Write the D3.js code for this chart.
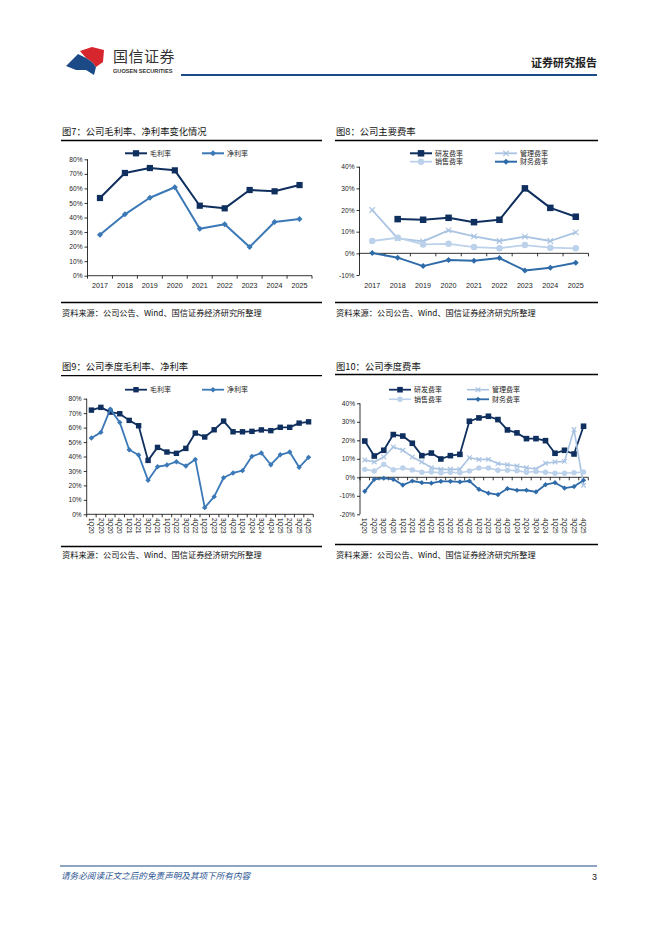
<!DOCTYPE html>
<html><head><meta charset="utf-8">
<script src="https://cdn.jsdelivr.net/npm/d3@7/dist/d3.min.js"></script>
<style>
body{margin:0;background:#fff;}
svg{display:block;}
</style></head>
<body>
<svg id="page" width="662" height="936"></svg>
<script>
// ---------- DATA ----------
const years = ["2017","2018","2019","2020","2021","2022","2023","2024","2025"];
const grossAnnual = [53.4,70.6,74.0,72.4,48.1,46.3,58.9,58.0,62.3];
const netAnnual   = [28.2,42.2,53.6,60.8,32.3,35.3,19.7,36.9,39.0];
const rdAnnual    = [null,15.8,15.5,16.4,14.4,15.5,30.0,21.0,16.9];
const adminAnnual = [20.0,6.9,5.5,10.6,7.8,5.7,7.7,5.7,9.7];
const salesAnnual = [5.7,7.2,4.1,4.4,2.9,2.4,3.8,2.6,2.3];
const finAnnual   = [0.2,-2.0,-5.9,-3.1,-3.4,-2.2,-7.9,-6.6,-4.3];

const quarters = ["1Q20","2Q20","3Q20","4Q20","1Q21","2Q21","3Q21","4Q21","1Q22","2Q22","3Q22","4Q22",
                  "1Q23","2Q23","3Q23","4Q23","1Q24","2Q24","3Q24","4Q24","1Q25","2Q25","3Q25","4Q25"];
const grossQ = [72.1,74.0,70.7,69.6,65.0,61.3,37.3,46.3,43.1,42.2,45.6,56.2,53.5,58.5,64.5,57.1,57.1,57.4,58.4,57.9,60.2,60.2,63.1,64.0];
const netQ   = [52.8,56.7,72.8,63.6,44.7,41.0,23.5,32.9,34.1,36.4,33.4,38.0,4.6,12.2,25.3,28.6,30.2,40.1,42.4,34.3,41.2,43.1,32.5,39.4];
const rdQ    = [19.6,11.5,14.6,23.1,22.3,18.4,11.7,13.1,9.9,11.7,12.4,30.3,32.1,33.0,31.2,25.6,24.0,20.9,20.9,19.8,13.0,14.6,12.6,27.6];
const adminQ = [9.4,8.3,11.0,16.4,14.6,11.0,8.3,5.2,4.3,4.3,4.3,10.6,9.6,9.7,7.4,6.8,6.1,5.2,4.5,7.6,8.3,8.6,25.8,-4.3];
const salesQ = [4.3,3.4,7.0,4.1,5.0,4.0,2.7,2.9,2.4,2.7,2.4,3.4,5.0,5.0,3.8,3.8,3.6,2.7,3.1,2.7,2.2,2.2,2.5,2.9];
const finQ   = [-7.6,-1.1,-0.5,-1.1,-4.2,-2.0,-2.9,-3.2,-2.2,-2.2,-2.5,-2.0,-6.5,-8.6,-9.4,-6.1,-7.0,-7.0,-7.9,-4.0,-2.9,-5.8,-5.0,-1.6];

const ticks7 = [0,10,20,30,40,50,60,70,80];
const ticks8 = [-10,0,10,20,30,40];
const ticks10 = [-20,-10,0,10,20,30,40];

// ---------- STYLE ----------
const NAVY = "#0f2f5e", MID = "#3a78b6", LIGHT1 = "#a9c3e2", LIGHT2 = "#bcd1ea", FIN = "#2f6ba9";
const CJK = "'Noto Sans CJK SC','Noto Sans',sans-serif";
const LAT = "'Liberation Sans',Arial,sans-serif";

const svg = d3.select("#page");

// ---------- HEADER ----------
const hdr = svg.append("g");
hdr.append("path").attr("d","M80,51 L92,47 L104,50 L103,62 L96,67 L92,62 L86,58 Z").attr("fill","#d7262e");
hdr.append("path").attr("d","M66,66 L78,54 L86,58 L92,62 L96,67 L94,75 L86,70 L76,70 Z").attr("fill","#1c4a86");
hdr.append("text").attr("x",113).attr("y",62).attr("font-family",CJK).attr("font-size",15).attr("fill","#333")
   .attr("letter-spacing",0.5).text("国信证券");
hdr.append("text").attr("x",113).attr("y",73).attr("font-family",LAT).attr("font-size",5.6).attr("font-weight","bold")
   .attr("fill","#333").text("GUOSEN SECURITIES");
hdr.append("line").attr("x1",181).attr("x2",597).attr("y1",75).attr("y2",75).attr("stroke","#1c4a86").attr("stroke-width",2);
hdr.append("text").attr("x",597).attr("y",67).attr("text-anchor","end").attr("font-family",CJK).attr("font-size",11)
   .attr("font-weight","bold").attr("fill","#222").text("证券研究报告");

// ---------- FOOTER ----------
svg.append("line").attr("x1",60).attr("x2",597).attr("y1",866).attr("y2",866).attr("stroke","#1c4a86").attr("stroke-width",1.2);
svg.append("text").attr("x",61).attr("y",879).attr("font-family",CJK).attr("font-size",8.6).attr("font-style","italic")
   .attr("fill","#2a5592").attr("transform","skewX(0)").text("请务必阅读正文之后的免责声明及其项下所有内容");
svg.append("text").attr("x",597).attr("y",880).attr("text-anchor","end").attr("font-family",LAT).attr("font-size",9)
   .attr("fill","#222").text("3");

// ---------- helpers ----------
function marker(g, type, x, y, color, size) {
  if (type === "square") {
    g.append("rect").attr("x",x-size/2).attr("y",y-size/2).attr("width",size).attr("height",size).attr("fill",color);
  } else if (type === "diamond") {
    g.append("path").attr("d",`M${x},${y-size/2}L${x+size/2},${y}L${x},${y+size/2}L${x-size/2},${y}Z`).attr("fill",color);
  } else if (type === "circle") {
    g.append("circle").attr("cx",x).attr("cy",y).attr("r",size/2).attr("fill",color);
  } else if (type === "x") {
    const s = size/2;
    g.append("path").attr("d",`M${x-s},${y-s}L${x+s},${y+s}M${x-s},${y+s}L${x+s},${y-s}`)
      .attr("stroke",color).attr("stroke-width",1.2).attr("fill","none");
  }
}

function frame(cfg) {
  const g = svg.append("g");
  g.append("text").attr("x",cfg.fx0+1).attr("y",cfg.titleY).attr("font-family",CJK).attr("font-size",9.3)
    .attr("fill","#111").text(cfg.title);
  g.append("line").attr("x1",cfg.fx0).attr("x2",cfg.fx1).attr("y1",cfg.titleLine).attr("y2",cfg.titleLine)
    .attr("stroke","#000").attr("stroke-width",1.3);
  g.append("line").attr("x1",cfg.fx0).attr("x2",cfg.fx1).attr("y1",cfg.botLine).attr("y2",cfg.botLine)
    .attr("stroke","#000").attr("stroke-width",1.3);
  g.append("text").attr("x",cfg.fx0+1).attr("y",cfg.srcY).attr("font-family",CJK).attr("font-size",8.2)
    .attr("fill","#111").text("资料来源：公司公告、Wind、国信证券经济研究所整理");
  return g;
}

function chart(cfg) {
  const g = frame(cfg);
  const x = d3.scaleBand().domain(cfg.cats).range([cfg.x0,cfg.x1]);
  const y = d3.scaleLinear().domain(cfg.domain).range([cfg.yBot,cfg.yTop]);

  // y axis
  const ya = g.append("g").attr("transform",`translate(${cfg.x0},0)`)
    .call(d3.axisLeft(y).tickValues(cfg.ticks).tickSize(3).tickPadding(2).tickFormat(d=>d+"%"));
  ya.select(".domain").attr("stroke","#000").attr("stroke-width",0.8).attr("d",`M-0,${cfg.yBot}V${cfg.yTop}`);
  ya.selectAll(".tick line").attr("stroke","#000").attr("stroke-width",0.8);
  ya.selectAll("text").attr("font-family",LAT).attr("font-size",6.6).attr("fill","#222");

  // x axis line at zero / bottom
  const axY = y(cfg.axisAt);
  const xa = g.append("g").attr("transform",`translate(0,${axY})`);
  xa.append("line").attr("x1",cfg.x0).attr("x2",cfg.x1).attr("y1",0).attr("y2",0).attr("stroke","#000").attr("stroke-width",0.8);
  const bounds = cfg.cats.map(c=>x(c)).concat([cfg.x1]);
  xa.selectAll("line.tk").data(bounds).join("line").attr("class","tk")
    .attr("x1",d=>d).attr("x2",d=>d).attr("y1",0).attr("y2",3).attr("stroke","#000").attr("stroke-width",0.8);

  // x labels
  const lab = g.append("g");
  if (cfg.rotate) {
    lab.selectAll("text").data(cfg.cats).join("text")
      .attr("transform",d=>`translate(${x(d)+x.bandwidth()/2-2.3},${cfg.labelY}) rotate(90)`)
      .attr("font-family",LAT).attr("font-size",6.4).attr("fill","#222").text(d=>d);
  } else {
    lab.selectAll("text").data(cfg.cats).join("text")
      .attr("x",d=>x(d)+x.bandwidth()/2).attr("y",cfg.labelY).attr("text-anchor","middle")
      .attr("font-family",LAT).attr("font-size",7.2).attr("fill","#222").text(d=>d);
  }

  // series
  cfg.series.forEach(s=>{
    const pts = cfg.cats.map((c,i)=>({c,v:s.values[i]})).filter(p=>p.v!=null);
    const line = d3.line().x(p=>x(p.c)+x.bandwidth()/2).y(p=>y(p.v));
    g.append("path").attr("d",line(pts)).attr("fill","none").attr("stroke",s.color).attr("stroke-width",s.width||1.8)
      .attr("stroke-linejoin","round");
    const mg = g.append("g");
    pts.forEach(p=>marker(mg,s.marker,x(p.c)+x.bandwidth()/2,y(p.v),s.mcolor||s.color,s.size));
  });

  // legend
  cfg.legend.forEach(l=>{
    const s = cfg.series[l.i];
    g.append("line").attr("x1",l.x).attr("x2",l.x+22).attr("y1",l.y).attr("y2",l.y).attr("stroke",s.color).attr("stroke-width",s.width||1.8);
    marker(g,s.marker,l.x+11,l.y,s.mcolor||s.color,s.size);
    g.append("text").attr("x",l.x+25).attr("y",l.y+2.5).attr("font-family",CJK).attr("font-size",7).attr("fill","#222").text(s.name);
  });
}

// ---------- Figure 7 ----------
chart({
  title:"图7：公司毛利率、净利率变化情况", fx0:61, fx1:322, titleY:135, titleLine:140.5, botLine:302.5, srcY:316,
  cats:years, x0:87.5, x1:312, yTop:159.3, yBot:275.7, domain:[0,80], ticks:ticks7, axisAt:0, labelY:288,
  series:[
    {name:"毛利率", values:grossAnnual, color:NAVY, marker:"square", size:6.2, width:2},
    {name:"净利率", values:netAnnual, color:MID, marker:"diamond", size:6, width:2}
  ],
  legend:[{i:0,x:125,y:153.3},{i:1,x:202,y:153.3}]
});

// ---------- Figure 8 ----------
chart({
  title:"图8：公司主要费率", fx0:335, fx1:598, titleY:135, titleLine:140.5, botLine:302.5, srcY:316,
  cats:years, x0:359.5, x1:588.5, yTop:166.7, yBot:275, domain:[-10,40], ticks:ticks8, axisAt:0, labelY:288,
  series:[
    {name:"研发费率", values:rdAnnual, color:NAVY, marker:"square", size:6.5, width:2},
    {name:"管理费率", values:adminAnnual, color:LIGHT1, marker:"x", size:5.5, width:1.8},
    {name:"销售费率", values:salesAnnual, color:LIGHT2, marker:"circle", size:6.5, width:1.8},
    {name:"财务费率", values:finAnnual, color:FIN, marker:"diamond", size:6, width:2}
  ],
  legend:[{i:0,x:410,y:153.3},{i:1,x:495,y:153.3},{i:2,x:410,y:161.7},{i:3,x:495,y:161.7}]
});

// ---------- Figure 9 ----------
chart({
  title:"图9：公司季度毛利率、净利率", fx0:61, fx1:322, titleY:370, titleLine:375.7, botLine:546.5, srcY:558,
  cats:quarters, x0:86.7, x1:313.3, yTop:398.7, yBot:514.3, domain:[0,80], ticks:ticks7, axisAt:0, labelY:518, rotate:true,
  series:[
    {name:"毛利率", values:grossQ, color:NAVY, marker:"square", size:5.4, width:1.8},
    {name:"净利率", values:netQ, color:MID, marker:"diamond", size:5.4, width:1.8}
  ],
  legend:[{i:0,x:125,y:389.7},{i:1,x:202,y:389.7}]
});

// ---------- Figure 10 ----------
chart({
  title:"图10：公司季度费率", fx0:335, fx1:598, titleY:370, titleLine:374.5, botLine:544.5, srcY:558,
  cats:quarters, x0:360, x1:588.3, yTop:403.3, yBot:514.3, domain:[-20,40], ticks:ticks10, axisAt:0, labelY:518, rotate:true,
  series:[
    {name:"研发费率", values:rdQ, color:NAVY, marker:"square", size:5.6, width:1.8},
    {name:"管理费率", values:adminQ, color:LIGHT1, marker:"x", size:4.6, width:1.6},
    {name:"销售费率", values:salesQ, color:LIGHT2, marker:"circle", size:5.4, width:1.6},
    {name:"财务费率", values:finQ, color:FIN, marker:"diamond", size:5.2, width:1.8}
  ],
  legend:[{i:0,x:389,y:389.7},{i:1,x:467,y:389.7},{i:2,x:389,y:399.3},{i:3,x:467,y:399.3}]
});
</script>
</body></html>
